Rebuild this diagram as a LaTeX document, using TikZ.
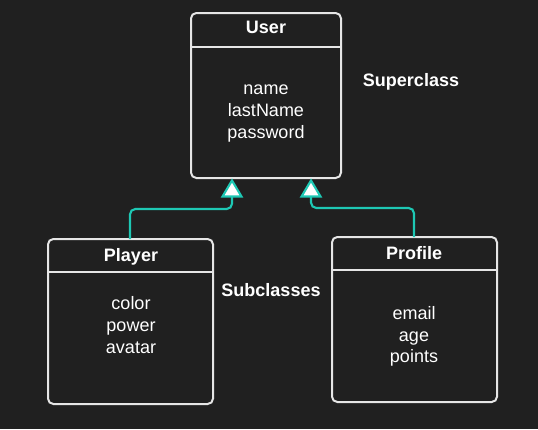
\documentclass[tikz,border=0pt]{standalone}
\usepackage{fontspec}
\setmainfont{Liberation Sans}
\definecolor{bg}{HTML}{202020}
\definecolor{teal}{HTML}{1EC8B4}
\definecolor{edge}{HTML}{E6E6E6}
\begin{document}
\begin{tikzpicture}[x=0.75pt,y=-0.75pt,
  box/.style={draw=edge,line width=1.5pt,rounded corners=4pt},
  sep/.style={draw=edge,line width=1.5pt},
  txt/.style={text=white,font=\fontsize{13.5}{16.5}\selectfont,inner sep=0pt,anchor=base},
  ttl/.style={text=white,font=\fontsize{13.5}{16.5}\selectfont\bfseries,inner sep=0pt,anchor=base},
  conn/.style={draw=teal,line width=1.6pt,rounded corners=4pt},
  tri/.style={draw=teal,fill=white,line width=1.6pt,line join=miter}]
\fill[bg] (0,0) rectangle (538,429);
\useasboundingbox (0,0) rectangle (538,429);
% boxes
\draw[box] (191,13) rectangle (341,178);
\draw[sep] (191,47) -- (341,47);
\draw[box] (48,239) rectangle (213,404);
\draw[sep] (48,272) -- (213,272);
\draw[box] (332,237) rectangle (497,402);
\draw[sep] (332,270) -- (497,270);
% texts
\node[ttl] (usert) at (266,33) {User};
\node[txt] (u1) at (266,94) {name};
\node[txt] (u2) at (266,116) {lastName};
\node[txt] (u3) at (266,138) {password};
\node[ttl] (super) at (411,86) {Superclass};
\node[ttl] (playert) at (131,261) {Player};
\node[txt] (pl1) at (131,309) {color};
\node[txt] (pl2) at (131,331) {power};
\node[txt] (pl3) at (131,353) {avatar};
\node[ttl] (sub) at (271,296) {Subclasses};
\node[ttl] (proft) at (414,259) {Profile};
\node[txt] (pr1) at (414,319) {email};
\node[txt] (pr2) at (414,341) {age};
\node[txt] (pr3) at (414,362) {points};
% connectors
\coordinate (p1) at (130,239);
\coordinate (a1) at (232,197);
\coordinate (p2) at (414,237);
\coordinate (a2) at (311,197);
\draw[conn] (p1) -- (130,209) -- (232,209) -- (a1);
\draw[conn] (p2) -- (414,208) -- (311,208) -- (a2);
\draw[tri] (232,180.5) -- (241.5,196.5) -- (222.5,196.5) -- cycle;
\draw[tri] (311,180.5) -- (320.5,196.5) -- (301.5,196.5) -- cycle;
\end{tikzpicture}
\end{document}
